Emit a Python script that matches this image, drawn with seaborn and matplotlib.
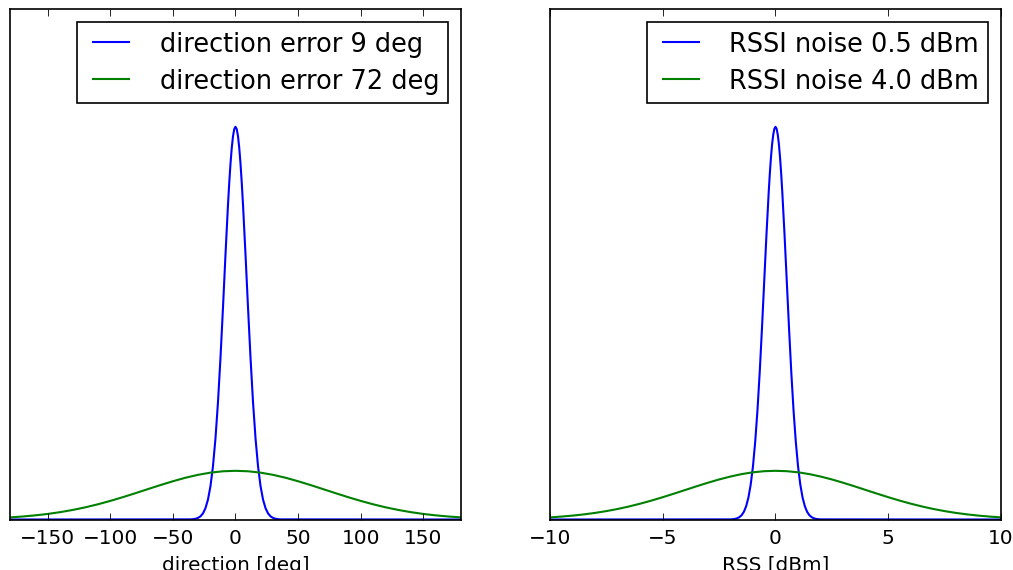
import matplotlib
matplotlib.use("Agg")
import matplotlib.pyplot as plt
import pandas as pd
import seaborn as sns

# --- values (y in units of the narrow peak height) ---
dir_narrow_x = [-180, -36, -34, -32, -30, -28, -26, -24, -22, -20, -18, -16, -14, -12, -10, -8, -6, -5, -4, -3,
                -2, -1, 0, 1, 2, 3, 4, 5, 6, 8, 10, 12, 14, 16, 18, 20, 22, 24, 26, 28, 30, 32, 34, 36, 180]
dir_narrow_y = [0.0, 0.0003, 0.0008, 0.0018, 0.0039, 0.0079, 0.0154, 0.0286, 0.0504, 0.0846, 0.135, 0.206,
                0.298, 0.411, 0.539, 0.674, 0.801, 0.857, 0.906, 0.946, 0.976, 0.994,
                1.0, 0.994, 0.976, 0.946, 0.906, 0.857, 0.801, 0.674, 0.539, 0.411, 0.298, 0.206, 0.135, 0.0846,
                0.0504, 0.0286, 0.0154, 0.0079, 0.0039, 0.0018, 0.0008, 0.0003, 0.0]
dir_wide_x = [-180, -170, -160, -150, -140, -130, -120, -110, -100, -90, -80, -70, -60, -50, -40, -30, -20, -10,
              0, 10, 20, 30, 40, 50, 60, 70, 80, 90, 100, 110, 120, 130, 140, 150, 160, 170, 180]
dir_wide_y = [0.0054, 0.0076, 0.0105, 0.0141, 0.0187, 0.0243, 0.0309, 0.0386, 0.0473, 0.0568, 0.0669, 0.0773,
              0.0876, 0.0974, 0.1063, 0.1137, 0.1193, 0.1228,
              0.124, 0.1228, 0.1193, 0.1137, 0.1063, 0.0974, 0.0876, 0.0773, 0.0669, 0.0568, 0.0473, 0.0386,
              0.0309, 0.0243, 0.0187, 0.0141, 0.0105, 0.0076, 0.0054]

rss_narrow_x = [-10.0, -2.0, -1.9, -1.8, -1.7, -1.6, -1.5, -1.4, -1.3, -1.2, -1.1, -1.0, -0.9, -0.8, -0.7, -0.6,
                -0.5, -0.4, -0.3, -0.25, -0.2, -0.15, -0.1, -0.05, 0.0, 0.05, 0.1, 0.15, 0.2, 0.25, 0.3, 0.4,
                0.5, 0.6, 0.7, 0.8, 0.9, 1.0, 1.1, 1.2, 1.3, 1.4, 1.5, 1.6, 1.7, 1.8, 1.9, 2.0, 10.0]
rss_narrow_y = [0.0, 0.0003, 0.0007, 0.0015, 0.0031, 0.006, 0.0111, 0.0198, 0.034, 0.0561, 0.0889, 0.135, 0.198,
                0.278, 0.375, 0.487, 0.607, 0.726, 0.835, 0.8825, 0.923, 0.956, 0.98, 0.995, 1.0, 0.995, 0.98,
                0.956, 0.923, 0.8825, 0.835, 0.726, 0.607, 0.487, 0.375, 0.278, 0.198, 0.135, 0.0889, 0.0561,
                0.034, 0.0198, 0.0111, 0.006, 0.0031, 0.0015, 0.0007, 0.0003, 0.0]
rss_wide_x = [-10.0, -9.5, -9.0, -8.5, -8.0, -7.5, -7.0, -6.5, -6.0, -5.5, -5.0, -4.5, -4.0, -3.5, -3.0, -2.5,
              -2.0, -1.5, -1.0, -0.5, 0.0, 0.5, 1.0, 1.5, 2.0, 2.5, 3.0, 3.5, 4.0, 4.5, 5.0, 5.5, 6.0, 6.5,
              7.0, 7.5, 8.0, 8.5, 9.0, 9.5, 10.0]
rss_wide_y = [0.0054, 0.0074, 0.0099, 0.013, 0.0168, 0.0214, 0.0268, 0.0331, 0.0403, 0.0482, 0.0568, 0.0659,
              0.0752, 0.0846, 0.0936, 0.102, 0.1094, 0.1156, 0.1202, 0.123, 0.124, 0.123, 0.1202, 0.1156,
              0.1094, 0.102, 0.0936, 0.0846, 0.0752, 0.0659, 0.0568, 0.0482, 0.0403, 0.0331, 0.0268, 0.0214,
              0.0168, 0.013, 0.0099, 0.0074, 0.0054]

dir_labels = ["direction error 9 deg", "direction error 72 deg"]
rss_labels = ["RSSI noise 0.5 dBm", "RSSI noise 4.0 dBm"]
dir_ticks = [-150, -100, -50, 0, 50, 100, 150]
rss_ticks = [-10, -5, 0, 5, 10]


def make_df(x1, y1, x2, y2, labels):
    a = pd.DataFrame({'x': x1, 'y': y1, 'curve': labels[0]})
    b = pd.DataFrame({'x': x2, 'y': y2, 'curve': labels[1]})
    return pd.concat([a, b], ignore_index=True)


df_dir = make_df(dir_narrow_x, dir_narrow_y, dir_wide_x, dir_wide_y, dir_labels)
df_rss = make_df(rss_narrow_x, rss_narrow_y, rss_wide_x, rss_wide_y, rss_labels)

plt.style.use('classic')
plt.rcParams['font.family'] = ['DejaVu Sans']
plt.rcParams['xtick.major.pad'] = 5.2

fig = plt.figure(figsize=(8.45, 4.7583), dpi=120, facecolor='white')
ax1 = fig.add_axes([10 / 1014, 1 - 520.5 / 571, 451 / 1014, 510.5 / 571])
ax2 = fig.add_axes([550 / 1014, 1 - 520.5 / 571, 451 / 1014, 510.5 / 571])

panels = [(ax1, df_dir, dir_labels, dir_ticks, (-180, 180), 'direction [deg]'),
          (ax2, df_rss, rss_labels, rss_ticks, (-10, 10), 'RSS [dBm]')]

for ax, df, labels, ticks, xlim, xlabel in panels:
    sns.lineplot(data=df, x='x', y='y', hue='curve', hue_order=labels, palette=['b', 'g'],
                 estimator=None, legend=False, linewidth=1.25, ax=ax)
    ax.set_xlim(*xlim)
    ax.set_ylim(0, 1.3)
    ax.set_xticks(ticks)
    ax.set_yticks([])
    ax.set_xlabel(xlabel, fontsize=12, labelpad=4.5)
    ax.set_ylabel('')
    ax.tick_params(axis='x', labelsize=12)
    ax.legend(ax.get_lines()[:2], labels, loc='upper right', fontsize=15.4, numpoints=2,
              labelspacing=0.44, borderpad=0.35, handletextpad=0.88, borderaxespad=0.5)

fig.savefig('out.png', dpi=120, facecolor='white')
